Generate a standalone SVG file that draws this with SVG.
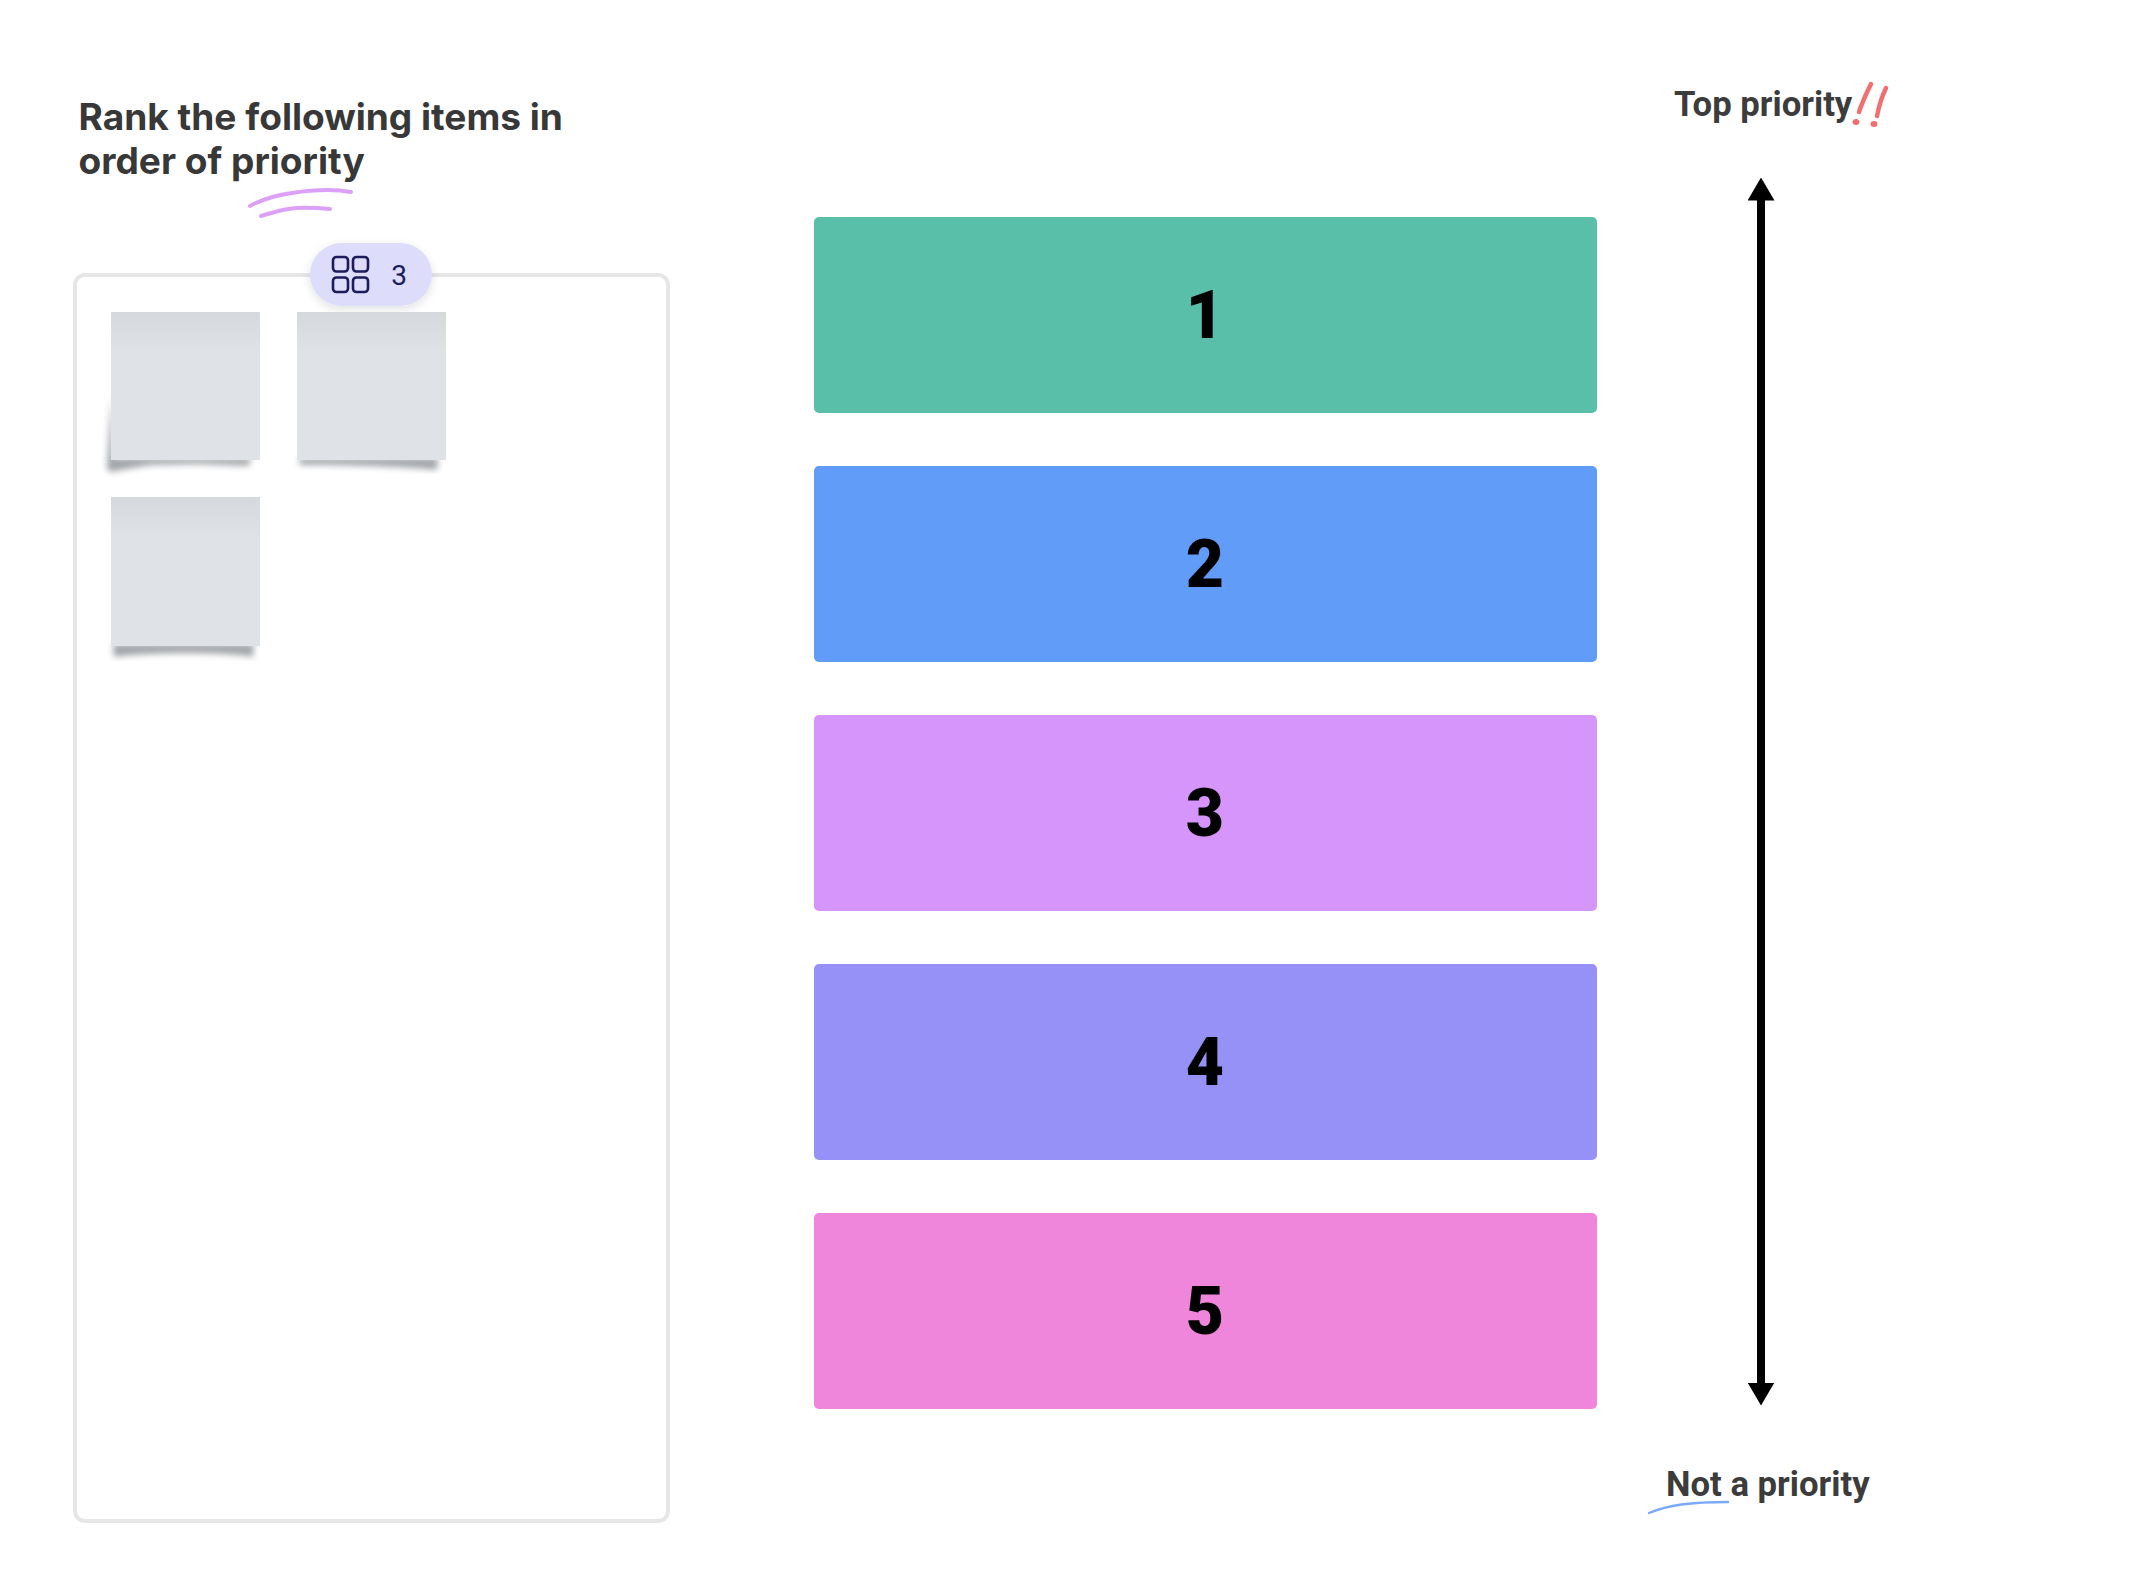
<svg xmlns="http://www.w3.org/2000/svg" width="2136" height="1584" viewBox="0 0 2136 1584">
<style>
.title{font-family:"Inter","Liberation Sans",sans-serif;font-weight:700;font-size:37.1px;fill:#383838}
.side{font-family:"Roboto","Liberation Sans",sans-serif;font-weight:700;font-size:34.7px;fill:#3c3c3c}
.num{font-family:"Roboto","Liberation Sans",sans-serif;font-weight:900;font-size:66px;fill:#000;text-anchor:middle}
.band{stroke:none}
.sticky{fill:url(#stickyFill)}
.shade{fill:#6f757c;filter:url(#blur);opacity:.65}
.scrib{fill:none;stroke-linecap:round;stroke-linejoin:round}
.cell{fill:none;stroke:#1c1c5c;stroke-width:2.6}
</style>
<defs>
<linearGradient id="stickyFill" x1="0" y1="0" x2="0" y2="1">
<stop offset="0" stop-color="#d5d8dc"/><stop offset="0.28" stop-color="#dfe2e6"/><stop offset="1" stop-color="#dfe2e6"/>
</linearGradient>
<filter id="blur" x="-20%" y="-30%" width="140%" height="160%"><feGaussianBlur stdDeviation="3"/></filter>
<filter id="pillShadow" x="-20%" y="-30%" width="140%" height="170%"><feDropShadow dx="0" dy="3" stdDeviation="5" flood-color="#000" flood-opacity="0.12"/></filter>
<marker id="head" markerUnits="userSpaceOnUse" markerWidth="23" markerHeight="27" refX="0.5" refY="13.5" orient="auto-start-reverse" viewBox="0 0 23 27"><path d="M0 0L23 13.5L0 27Z" fill="#000"/></marker>
</defs>
<rect width="2136" height="1584" fill="#fff"/>

<g id="prompt">
<text class="title" x="78.500" y="130">Rank the following items in</text>
<text class="title" x="78.500" y="174">order of priority</text>
<path class="scrib" stroke="#dca0f8" stroke-width="4" d="M250 206C264 198 278 195 292 193C312 190 334 189 351 192"/>
<path class="scrib" stroke="#dca0f8" stroke-width="4" d="M261 216C272 213 282 209 296 208C308 207 320 208 330 209"/>
</g>

<g id="frame">
<rect x="75" y="275" width="593" height="1246" rx="10" fill="#fff" stroke="#e6e6e6" stroke-width="4"/>
</g>
<g id="counter">
<rect x="310" y="243" width="122" height="63" rx="31.5" fill="#dedcfb" filter="url(#pillShadow)"/>
<rect class="cell" x="333" y="257" width="15" height="14.500" rx="3.500"/>
<rect class="cell" x="353" y="257" width="15" height="14.500" rx="3.500"/>
<rect class="cell" x="333" y="277.500" width="15" height="14.500" rx="3.500"/>
<rect class="cell" x="353" y="277.500" width="15" height="14.500" rx="3.500"/>
<text x="399" y="285" font-family="Roboto,'Liberation Sans',sans-serif" font-size="28" fill="#1c1c5c" text-anchor="middle">3</text>
</g>
<g id="sticky-1">
<path class="shade" d="M107 468L111 395L114 458L252 458L248 466L200 464L150 465L110 472Z"/>
<rect class="sticky" x="111" y="312" width="149" height="148"/>
</g>
<g id="sticky-2">
<path class="shade" d="M299 458H438L437 470C400 466 340 465 300 465Z"/>
<rect class="sticky" x="297" y="312" width="149" height="148"/>
</g>
<g id="sticky-3">
<path class="shade" d="M113 644H254L253 657C225 652 150 652 114 657Z"/>
<rect class="sticky" x="111" y="497" width="149" height="149"/>
</g>

<g id="rank-1"><rect class="band" x="814" y="217" width="783" height="196" rx="5" fill="#5abfa9"/><text class="num" x="1205" y="338">1</text></g>
<g id="rank-2"><rect class="band" x="814" y="466" width="783" height="196" rx="5" fill="#619cf8"/><text class="num" x="1205" y="587">2</text></g>
<g id="rank-3"><rect class="band" x="814" y="715" width="783" height="196" rx="5" fill="#d595fb"/><text class="num" x="1205" y="836">3</text></g>
<g id="rank-4"><rect class="band" x="814" y="964" width="783" height="196" rx="5" fill="#9691f7"/><text class="num" x="1205" y="1085">4</text></g>
<g id="rank-5"><rect class="band" x="814" y="1213" width="783" height="196" rx="5" fill="#f086dc"/><text class="num" x="1205" y="1334">5</text></g>

<g id="connectors">
<line x1="1761" y1="200" x2="1761" y2="1383" stroke="#000" stroke-width="8" marker-start="url(#head)" marker-end="url(#head)"/>
</g>

<g id="top-label">
<text class="side" x="1674" y="116">Top priority</text>
<path class="scrib" stroke="#f07070" stroke-width="4.5" d="M1871 84C1866 94 1862 103 1859 112"/>
<path class="scrib" stroke="#f07070" stroke-width="4.5" d="M1886 88C1882 96 1879 106 1877 116"/>
<ellipse cx="1856" cy="122" rx="3.5" ry="3" fill="#f07070"/>
<ellipse cx="1874" cy="124" rx="3.5" ry="3" fill="#f07070"/>
</g>
<g id="bottom-label">
<text class="side" x="1666" y="1496">Not a priority</text>
<path class="scrib" stroke="#7aa9f7" stroke-width="2.4" d="M1649 1513C1668 1505 1690 1502 1728 1502"/>
</g>
</svg>
